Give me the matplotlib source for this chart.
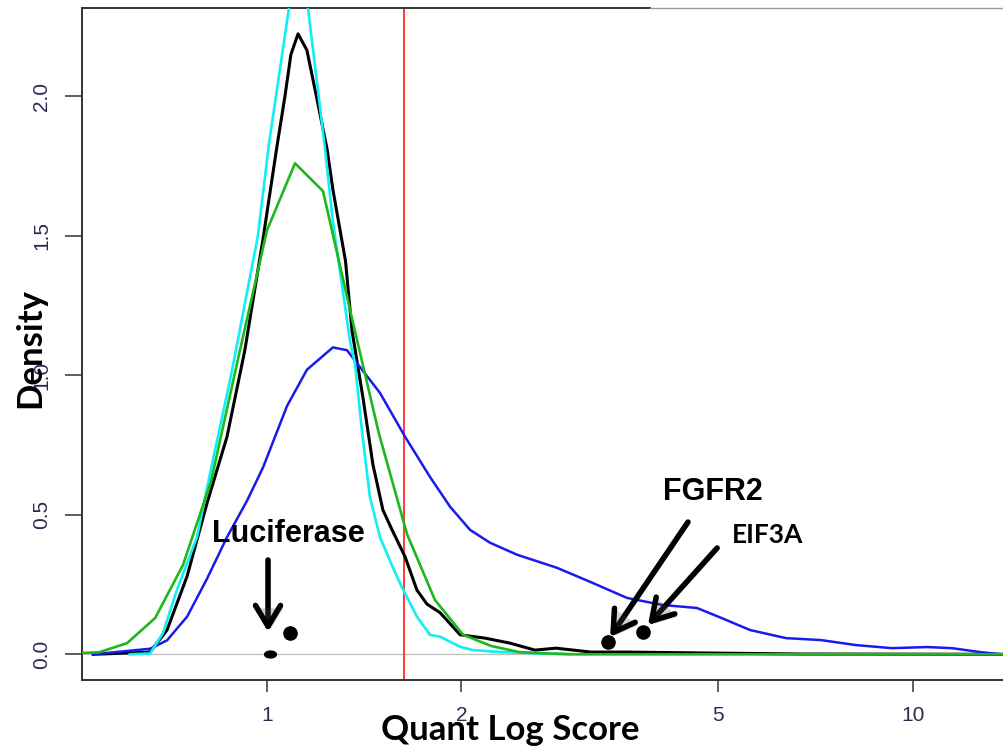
import matplotlib
matplotlib.use('Agg')
from matplotlib import pyplot as plt
from matplotlib import patheffects as pe
import numpy as np

# density curves (x = quant score, log axis; y = density)
black_x = [0.538, 0.659, 0.700, 0.752, 0.807, 0.867, 0.924, 0.986, 1.036, 1.066, 1.089, 1.117,
           1.153, 1.195, 1.239, 1.265, 1.323, 1.354, 1.408, 1.459, 1.512, 1.562, 1.636, 1.707,
           1.769, 1.854, 1.991, 2.176, 2.379, 2.601, 2.803, 3.176, 3.612, 4.634, 6.765, 13.86]
black_y = [0.0, 0.008, 0.087, 0.28, 0.54, 0.78, 1.09, 1.49, 1.82, 2.00, 2.15, 2.224,
           2.165, 1.99, 1.81, 1.665, 1.41, 1.16, 0.92, 0.68, 0.517, 0.446, 0.35, 0.23,
           0.18, 0.149, 0.07, 0.058, 0.040, 0.015, 0.022, 0.008, 0.008, 0.005, 0.001, 0.0]

cyan_x = [0.613, 0.659, 0.690, 0.725, 0.779, 0.825, 0.876, 0.895, 0.968, 1.007, 1.082, 1.100,
          1.117, 1.135, 1.157, 1.230, 1.265, 1.345, 1.369, 1.403, 1.443, 1.496, 1.567, 1.618,
          1.707, 1.788, 1.854, 1.991, 2.085, 2.296, 2.947]
cyan_y = [0.0, 0.003, 0.076, 0.23, 0.42, 0.70, 0.98, 1.09, 1.50, 1.83, 2.32, 2.46,
          2.52, 2.46, 2.32, 1.81, 1.55, 1.12, 1.04, 0.80, 0.565, 0.42, 0.31, 0.24,
          0.135, 0.07, 0.063, 0.027, 0.015, 0.008, 0.0]

green_x = [0.517, 0.549, 0.607, 0.671, 0.741, 0.819, 0.905, 1.0, 1.105, 1.221, 1.349, 1.491,
           1.648, 1.820, 2.012, 2.223, 2.457, 2.715, 3.000, 13.86]
green_y = [0.005, 0.007, 0.04, 0.13, 0.32, 0.62, 1.075, 1.52, 1.76, 1.66, 1.22, 0.79,
           0.43, 0.195, 0.07, 0.03, 0.008, 0.003, 0.0, 0.0]

blue_x = [0.538, 0.659, 0.700, 0.752, 0.807, 0.867, 0.931, 0.986, 1.074, 1.153, 1.265, 1.330,
          1.379, 1.496, 1.636, 1.788, 1.921, 2.063, 2.215, 2.439, 2.813, 3.164, 3.612, 4.091,
          4.634, 5.012, 5.600, 6.367, 7.214, 8.173, 9.292, 10.53, 11.51, 12.72, 13.71]
blue_y = [0.0, 0.02, 0.05, 0.135, 0.27, 0.42, 0.55, 0.67, 0.89, 1.02, 1.10, 1.09,
          1.043, 0.937, 0.78, 0.636, 0.529, 0.446, 0.40, 0.357, 0.31, 0.26, 0.202, 0.177,
          0.166, 0.134, 0.087, 0.058, 0.051, 0.033, 0.022, 0.026, 0.022, 0.008, 0.0]

cutoff = 1.63

# highlighted guides (black dots)
dot_x = [1.086, 3.379, 3.827]
dot_y = [0.075, 0.045, 0.081]
luc_x = [1.011]
luc_y = [0.0]

x_ticks = [1, 2, 5, 10]
y_ticks = [0.0, 0.5, 1.0, 1.5, 2.0]

fig = plt.figure(figsize=(10.04, 7.48), dpi=100)
ax = fig.add_axes([82 / 1004, 1 - 680 / 748, 922 / 1004, 672 / 748])
ax.set_xscale('log')
ax.set_xlim(0.5169, 13.854)
ax.set_ylim(-0.0921, 2.3165)

ax.axhline(0, color='#bdbdbd', lw=0.9, zorder=1)
ax.axvline(cutoff, color='#ff2a2a', lw=1.3, zorder=2)

ax.plot(black_x, black_y, color='black', lw=2.2, zorder=3)
ax.plot(blue_x, blue_y, color='#1a1aee', lw=1.8, zorder=3)
ax.plot(cyan_x, cyan_y, color='#10eef6', lw=1.9, zorder=3)
ax.plot(green_x, green_y, color='#1cb81c', lw=1.9, zorder=3)

ax.plot(dot_x, dot_y, 'o', color='black', ms=9.5, zorder=5)
t = np.linspace(0, 2 * np.pi, 40)
ell = np.column_stack([np.cos(t), 0.58 * np.sin(t)])
ax.plot(luc_x, luc_y, marker=ell, ls='none', color='black', ms=8.5, zorder=5)

# arrows and labels
shadow = [pe.withSimplePatchShadow(offset=(2, -2), alpha=0.25)]
arrows = [((1.0036, 0.081), (1.0036, 0.338)),
          ((3.40, 0.062), (4.488, 0.474)),
          ((3.891, 0.105), (4.98, 0.381))]
for tip, start in arrows:
    ax.annotate('', xy=tip, xytext=start,
                arrowprops=dict(arrowstyle='->, head_length=0.75, head_width=0.45',
                                lw=4, color='black', shrinkA=0, shrinkB=0,
                                mutation_scale=20, path_effects=shadow),
                zorder=6)

ax.text(1.078, 0.431, 'Luciferase', ha='center', va='center', fontsize=22,
        fontweight='bold', family='Liberation Sans', zorder=6)
ax.text(4.909, 0.581, 'FGFR2', ha='center', va='center', fontsize=22,
        fontweight='bold', family='Liberation Sans', zorder=6)
ax.text(5.97, 0.427, 'EIF3A', ha='center', va='center', fontsize=19,
        fontweight='bold', family='Lato', zorder=6)

# axes frame, R style
for s in ['top', 'right']:
    ax.spines[s].set_visible(False)
for s in ['left', 'bottom']:
    ax.spines[s].set_color('#333333')
    ax.spines[s].set_linewidth(1.4)
ax.plot([0, 0.616], [1, 1], transform=ax.transAxes, color='#333333', lw=1.4, clip_on=False)
ax.plot([0.616, 1], [1, 1], transform=ax.transAxes, color='#9a9a9a', lw=1.0, clip_on=False)

ax.set_xticks(x_ticks)
ax.set_xticklabels([str(v) for v in x_ticks])
ax.xaxis.set_minor_locator(matplotlib.ticker.NullLocator())
ax.set_yticks(y_ticks)
ax.set_yticklabels(['%.1f' % v for v in y_ticks])
ax.tick_params(axis='x', length=8.6, width=1.1, color='#333333', pad=10,
               labelsize=15, labelcolor='#2a2a50')
ax.tick_params(axis='y', length=12.2, width=1.1, color='#333333', pad=10,
               labelsize=15, labelcolor='#2a2a50', labelrotation=90)
for lab in ax.get_xticklabels() + ax.get_yticklabels():
    lab.set_family('Liberation Sans')
for lab in ax.get_yticklabels():
    lab.set_va('center')

fig.text(40 / 1004, 1 - 348 / 748, 'Density', rotation=90, rotation_mode='anchor',
         ha='center', va='baseline', fontsize=25, fontweight='bold', family='Lato')
fig.text(510 / 1004, 1 - 740 / 748, 'Quant Log Score', ha='center', va='baseline',
         fontsize=25, fontweight='bold', family='Lato')

fig.savefig('out.png', dpi=100)
